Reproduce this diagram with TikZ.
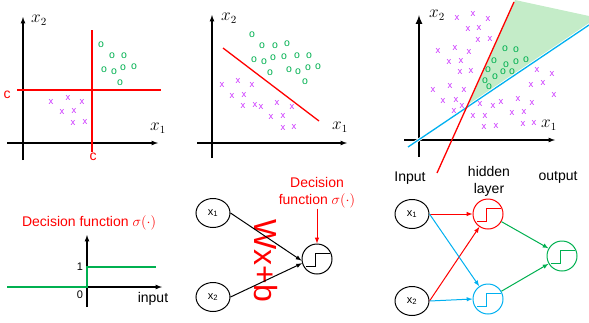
\documentclass[tikz,border=0pt]{standalone}
\usepackage{tikz}
\usepackage{fontspec}
\setmainfont{Liberation Sans}
\usetikzlibrary{arrows,shapes.geometric}

\definecolor{sred}{RGB}{255,0,0}
\definecolor{sblue}{RGB}{0,176,240}
\definecolor{sgreen}{RGB}{0,176,80}
\definecolor{spurple}{RGB}{204,51,255}
\definecolor{sfill}{RGB}{196,236,200}

\tikzset{
  axis/.style={line width=1.2pt,-latex},
  xmark/.style={text=spurple,font=\fontsize{9.5}{10}\selectfont,inner sep=0pt},
  omark/.style={text=sgreen,font=\fontsize{10.5}{11}\selectfont,inner sep=0pt},
  lab/.style={font=\fontsize{14}{17}\selectfont,inner sep=0pt},
  axlab/.style={font=\fontsize{16}{18}\selectfont,inner sep=0pt},
  inp/.style={draw,ellipse,line width=1pt,minimum width=34pt,minimum height=29pt,inner sep=0pt,font=\fontsize{11}{12}\selectfont},
  unit/.style={draw,circle,line width=1pt,minimum size=30pt,inner sep=0pt},
}
\newcommand{\stepfn}{++(-11,7) -- ++(9,0) -- ++(0,-13) -- ++(15,0)}

\begin{document}
\begin{tikzpicture}[x=1pt,y=-1pt]
    \useasboundingbox (0,0) rectangle (589,322);
    % --- TOP LEFT: two thresholds ---
    \draw[axis] (7,143) -- (158,143);
    \draw[axis] (23,160) -- (23,17);
    \node[axlab] (xa1) at (158,128) {$x_1$};
    \node[axlab] (xa2) at (39,20) {$x_2$};
    \draw[sred,line width=1.3pt] (92,30) -- (92,152);
    \draw[sred,line width=1.3pt] (17,90) -- (161,90);
    \node[lab,text=sred] (ca) at (7,95) {c};
    \node[lab,text=sred] (cb) at (93,157) {c};
    \foreach \x/\y [count=\i] in {101/45,112/56,124/56,104/70,114/72,123/68,134/67,120/83}
        \node[omark] (oa\i) at (\x,\y) {o};
    \foreach \x/\y [count=\i] in {51/102,68/98,82/102,62/112,74/111,73/123,85/122}
        \node[xmark] (ma\i) at (\x,\y) {x};

    % --- TOP MIDDLE: one line ---
    \draw[axis] (197,143) -- (347,143);
    \draw[axis] (212,158) -- (212,15);
    \node[axlab] (xb1) at (340,127) {$x_1$};
    \node[axlab] (xb2) at (229,18) {$x_2$};
    \draw[sred,line width=1.3pt] (223,48) -- (319,121);
    \foreach \x/\y [count=\i] in {252/35,262/46,275/46,287/44,254/60,264/62,273/58,284/57,297/56,309/56,270/73,289/70,298/72,308/68,318/67,305/82}
        \node[omark] (ob\i) at (\x,\y) {o};
    \foreach \x/\y [count=\i] in {222/85,238/81,252/85,232/96,244/95,243/106,255/105,261/107,277/103,292/107,271/117,283/116,283/128,294/127}
        \node[xmark] (mb\i) at (\x,\y) {x};

    % --- TOP RIGHT: two lines, shaded wedge ---
    \fill[sfill] (467,108) -- (515,0) -- (589,16) -- (589,23) -- cycle;
    \draw[axis] (404,140) -- (555,140);
    \draw[axis,line width=2pt] (419,157) -- (419,15);
    \node[axlab] (xc1) at (549,125) {$x_1$};
    \node[axlab] (xc2) at (437,15) {$x_2$};
    \draw[sblue,line width=1.3pt,preaction={draw=white,line width=3pt}] (408,147) -- (589,25);
    \draw[sred,line width=1.3pt] (514,2) -- (437,173);
    \foreach \x/\y [count=\i] in {505/49,516/50,494/61,506/65,516/62,526/60,488/70,503/72,512/72,495/77,485/81,489/87}
        \node[omark] (oc\i) at (\x,\y) {o};
    \foreach \x/\y [count=\i] in {457/18,473/14,488/19,468/29,479/28,478/40,490/39,438/51,455/48,469/52,449/62,461/61,460/72,471/71,433/90,450/86,464/90,443/101,456/100,462/106,454/111,473/116,485/116,484/127,496/126,480/104,493/106,501/102,518/99,532/103,512/113,524/112,523/124,534/123,537/70,552/74,531/85,543/83,554/95}
        \node[xmark] (mc\i) at (\x,\y) {x};

    % --- BOTTOM LEFT: step function ---
    \node[lab,text=sred] (dfa) at (89,223) {Decision function $\sigma(\cdot)$};
    \draw[axis] (87,307) -- (87,235);
    \draw[axis] (87,287) -- (162,287);
    \draw[sgreen,line width=1.3pt] (7,287) -- (87,287) -- (87,267) -- (156,267);
    \node[font=\fontsize{11}{12}\selectfont] (one) at (80,267) {1};
    \node[font=\fontsize{11}{12}\selectfont] (zero) at (80,295) {0};
    \node[lab] (inpt) at (153,299) {input};

    % --- BOTTOM MIDDLE: single neuron ---
    \node[font=\fontsize{32}{32}\selectfont,text=sred,inner sep=0pt,rotate=-90] (wxb) at (266,261) {Wx+b};
    \node[inp] (xd1) at (213,213) {x\textsubscript{1}};
    \node[inp] (xd2) at (213,297) {x\textsubscript{2}};
    \node[unit] (sig) at (317,259) {};
    \draw[line width=1pt] (sig.center) \stepfn;
    \draw[-latex,line width=1pt] (xd1.east) -- (sig.186);
    \draw[-latex,line width=1pt] (xd2.east) -- (sig.196);
    \node[lab,text=sred,align=center] (dfb) at (317,193) {Decision\\function $\sigma(\cdot)$};
    \draw[sred,-latex,line width=1pt] (dfb.south) -- (sig.north);

    % --- BOTTOM RIGHT: hidden layer ---
    \node[lab] (tin) at (410,178) {Input};
    \node[lab,align=center] (thid) at (489,181) {hidden\\layer};
    \node[lab] (tout) at (558,177) {output};
    \node[inp] (xe1) at (412,214) {x\textsubscript{1}};
    \node[inp] (xe2) at (412,301) {x\textsubscript{2}};
    \node[unit,draw=sred] (hr) at (488,214) {};
    \node[unit,draw=sblue] (hb) at (488,299) {};
    \node[unit,draw=sgreen] (ho) at (562,256) {};
    \draw[sred,line width=1pt] (hr.center) \stepfn;
    \draw[sblue,line width=1pt] (hb.center) \stepfn;
    \draw[sgreen,line width=1pt] (ho.center) \stepfn;
    \draw[sred,-latex,line width=1pt] (xe1.east) -- (hr.west);
    \draw[sred,-latex,line width=1pt] (xe2.east) -- (hr);
    \draw[sblue,-latex,line width=1pt] (xe1.east) -- (hb);
    \draw[sblue,-latex,line width=1pt] (xe2.east) -- (hb.west);
    \draw[sgreen,-latex,line width=1pt] (hr) -- (ho);
    \draw[sgreen,-latex,line width=1pt] (hb) -- (ho);
\end{tikzpicture}
\end{document}
